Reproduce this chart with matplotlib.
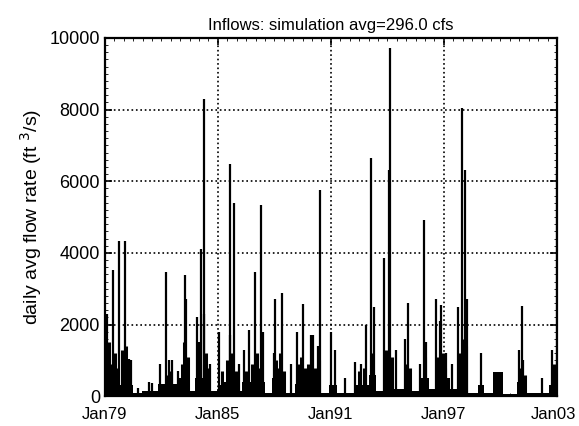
import matplotlib
matplotlib.use('Agg')
from matplotlib import pyplot as plt
import matplotlib.dates as mdates
import matplotlib.transforms as mtransforms
from matplotlib.ticker import MultipleLocator
import pandas as pd
import numpy as np

plt.rcParams['font.family'] = ['Liberation Sans', 'DejaVu Sans']

# storm peaks: decimal year, daily flow (cfs)
peak_years = [1979.10, 1979.43, 1979.76, 1980.07, 1980.28, 1980.39, 1980.76, 1981.35, 1981.50,
              1981.93, 1982.24, 1982.41, 1982.57, 1982.90, 1983.27, 1983.31, 1983.89, 1984.00,
              1984.12, 1984.24, 1984.28, 1984.60, 1985.08, 1985.63, 1985.67, 1985.84, 1986.10,
              1986.38, 1986.64, 1986.95, 1987.30, 1987.37, 1987.96, 1988.03, 1988.39, 1988.87,
              1989.22, 1989.52, 1989.93, 1990.06, 1990.29, 1990.41, 1991.00, 1991.23, 1991.75,
              1992.28, 1992.60, 1992.87, 1993.13, 1993.31, 1993.84, 1994.11, 1994.16, 1994.47,
              1994.95, 1995.09, 1995.71, 1995.94, 1996.07, 1996.56, 1996.78, 1996.87, 1997.13,
              1997.45, 1997.76, 1997.97, 1998.11, 1998.20, 1998.96, 2000.96, 2001.13, 2001.22,
              2002.20, 2002.73, 2002.98]
peak_flows = [2300, 3520, 4340, 4340, 1050, 1000, 220, 400, 380,
              900, 3460, 1000, 1000, 700, 3380, 2700, 2210, 1500,
              4100, 8300, 2300, 900, 1800, 6480, 1700, 5400, 900,
              1280, 1840, 3470, 5330, 1800, 1200, 2700, 2890, 900,
              1800, 2580, 1700, 1700, 1400, 5750, 1800, 1300, 500,
              950, 900, 1980, 6660, 2500, 3850, 6300, 9710, 1300,
              1600, 2600, 900, 4920, 1500, 2700, 2100, 2540, 1200,
              900, 2500, 8030, 6300, 2700, 1200, 1300, 2510, 1000,
              500, 1300, 6300]

# smaller storms filling the wet seasons
minor_years = [1979.20, 1979.30, 1979.55, 1979.65, 1979.90, 1980.15, 1980.20,
               1982.30, 1982.50, 1983.10, 1983.20, 1983.40,
               1984.05, 1984.35, 1984.45, 1985.20, 1985.50, 1985.75, 1985.95,
               1986.50, 1986.80, 1987.10, 1987.20, 1988.10, 1988.20, 1988.30, 1988.50,
               1989.30, 1989.40, 1989.60, 1989.80, 1990.15, 1990.35,
               1992.50, 1992.75, 1993.20, 1993.95, 1994.05, 1994.25,
               1995.00, 1995.20, 1996.00, 1996.65, 1996.95, 1997.05,
               1997.85, 1998.05, 1998.15, 2001.05, 2001.30, 2002.85]
minor_flows = [1500, 900, 1200, 800, 1300, 1400, 700,
               600, 700, 900, 1500, 1100,
               900, 1200, 800, 700, 1000, 1200, 700,
               700, 900, 1200, 800, 1000, 800, 1200, 700,
               900, 1100, 800, 900, 800, 1000,
               700, 800, 1200, 1300, 1000, 1100,
               900, 800, 1100, 1100, 1200, 800,
               1200, 1600, 1400, 800, 600, 900]

# seasonal base flow blocks: start year, level (cfs) until next start
base_years = [1979.0, 1980.5, 1981.0, 1981.8, 1982.9, 1983.5, 1983.8, 1984.6, 1985.0, 1985.3,
              1986.0, 1986.3, 1987.5, 1987.9, 1988.6, 1989.1, 1990.5, 1990.9, 1991.3, 1992.2,
              1993.0, 1993.4, 1993.8, 1994.3, 1994.9, 1995.3, 1995.8, 1996.2, 1996.5, 1997.3,
              1997.7, 1998.3, 1998.8, 1999.1, 1999.62, 2000.15, 2000.9, 2001.4, 2002.6, 2003.0]
base_flows = [300, 100, 150, 350, 500, 150, 500, 150, 300, 400,
              150, 400, 100, 500, 100, 350, 100, 300, 100, 300,
              600, 150, 600, 200, 500, 150, 500, 200, 500, 200,
              700, 100, 300, 80, 680, 60, 400, 100, 300, 300]

year_ticks = [1979, 1985, 1991, 1997, 2003]


def to_date(y):
    y = np.asarray(y, dtype=float)
    start = pd.Timestamp('1979-01-01')
    return start + pd.to_timedelta((y - 1979.0) * 365.25, unit='D')


fig = plt.figure(figsize=(5.79, 4.26), dpi=100)
ax = fig.add_axes([0.181, 0.070, 0.781, 0.841])

ax.fill_between(to_date(base_years), 0, base_flows, step='post', color='k', lw=0)
ax.vlines(to_date(minor_years), 0, minor_flows, color='k', lw=2.2)
ax.vlines(to_date(peak_years), 0, peak_flows, color='k', lw=1.6)

ax.set_xlim(pd.Timestamp('1979-01-01'), pd.Timestamp('2003-01-01'))
ax.set_ylim(0, 10000)
ax.set_xticks([pd.Timestamp(f'{y}-01-01') for y in year_ticks])
ax.xaxis.set_minor_locator(mdates.MonthLocator(bymonth=[1, 7]))
ax.xaxis.set_major_formatter(mdates.DateFormatter('%b%y'))
ax.yaxis.set_major_locator(MultipleLocator(2000))
ax.yaxis.set_minor_locator(MultipleLocator(200))
ax.tick_params(which='both', direction='in', top=True, right=True)
ax.tick_params(axis='y', labelsize=13)
ax.tick_params(axis='x', labelsize=12, pad=8)
ax.tick_params(which='major', length=5, width=1.2)
ax.tick_params(which='minor', length=2.5)
for s in ax.spines.values():
    s.set_linewidth(1.6)
ax.grid(True, which='major', linestyle=':', color='k', linewidth=1.2)

ax.set_title('Inflows: simulation avg=296.0 cfs', fontsize=12)
ax.set_ylabel('daily avg flow rate (ft $^{3}$/s)', fontsize=14)

# keep the last date label inside the figure
fig.canvas.draw()
last = ax.get_xticklabels()[-1]
last.set_horizontalalignment('right')
last.set_transform(last.get_transform() +
                   mtransforms.ScaledTranslation(0.19, 0, fig.dpi_scale_trans))

plt.savefig('out.png')
